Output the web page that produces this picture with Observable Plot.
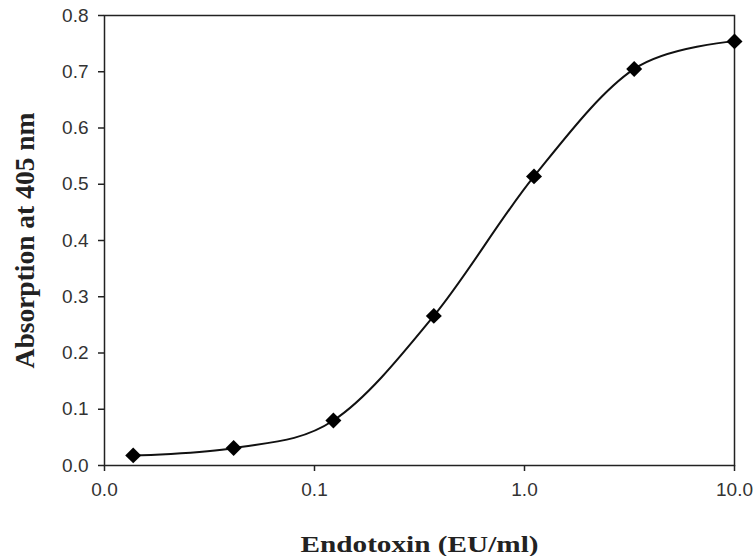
<!DOCTYPE html>
<html>
<head>
<meta charset="utf-8">
<script src="https://cdn.jsdelivr.net/npm/d3@7"></script>
<script src="https://cdn.jsdelivr.net/npm/@observablehq/plot@0.6"></script>
<style>
  html, body { margin: 0; padding: 0; background: #fff; }
  #chart { width: 754px; height: 556px; }
</style>
</head>
<body>
<div id="chart"></div>
<script>
// Endotoxin concentrations (EU/ml), 3-fold dilutions
const endotoxin = [0.0137, 0.0412, 0.123, 0.370, 1.11, 3.33, 10.0];
// Absorption at 405 nm
const absorption = [0.018, 0.031, 0.080, 0.266, 0.514, 0.705, 0.754];
const xTicks = [0.01, 0.1, 1, 10];
const yTicks = [0, 0.1, 0.2, 0.3, 0.4, 0.5, 0.6, 0.7, 0.8];
const xLabel = "Endotoxin (EU/ml)";
const yLabel = "Absorption at 405 nm";

const data = endotoxin.map((x, i) => ({x, y: absorption[i]}));

const chart = Plot.plot({
  width: 754,
  height: 556,
  marginLeft: 104,
  marginRight: 20,
  marginTop: 15,
  marginBottom: 91,
  style: {fontFamily: "'Liberation Sans', Arial, sans-serif", fontSize: "19px", color: "#222", background: "#fff"},
  x: {
    type: "log", domain: [0.01, 10], ticks: xTicks, tickFormat: d3.format(".1f"),
    tickSize: 6, tickPadding: 11, label: xLabel, labelAnchor: "center",
    labelOffset: 86, labelArrow: "none"
  },
  y: {
    domain: [0, 0.8], ticks: yTicks, tickFormat: d3.format(".1f"),
    tickSize: 6, tickPadding: 10, label: yLabel, labelAnchor: "center",
    labelOffset: 90, labelArrow: "none"
  },
  marks: [
    Plot.frame({stroke: "#222", strokeWidth: 1.5}),
    Plot.line(data, {x: "x", y: "y", curve: "cardinal", stroke: "#111", strokeWidth: 2}),
    Plot.dot(data, {x: "x", y: "y", symbol: "diamond2", r: 7.2, fill: "#000", stroke: "none"})
  ]
});

document.getElementById("chart").appendChild(chart);

const svg = d3.select(chart);
svg.selectAll("g[aria-label*='tick'] path")
  .attr("stroke", "#222").attr("stroke-width", 1.5);
svg.selectAll("text").each(function() {
  const t = d3.select(this);
  const s = t.text();
  if (s === xLabel) {
    t.style("font-family", "'Liberation Serif', 'Times New Roman', serif")
      .style("font-weight", "bold").style("font-size", "24px").style("fill", "#222")
      .attr("textLength", 238).attr("lengthAdjust", "spacingAndGlyphs");
  } else if (s === yLabel) {
    t.style("font-family", "'Liberation Serif', 'Times New Roman', serif")
      .style("font-weight", "bold").style("font-size", "27.5px").style("fill", "#222");
  } else {
    t.style("font-family", "'Liberation Sans', Arial, sans-serif")
      .style("font-size", "19px").style("fill", "#333");
  }
});
</script>
</body>
</html>
